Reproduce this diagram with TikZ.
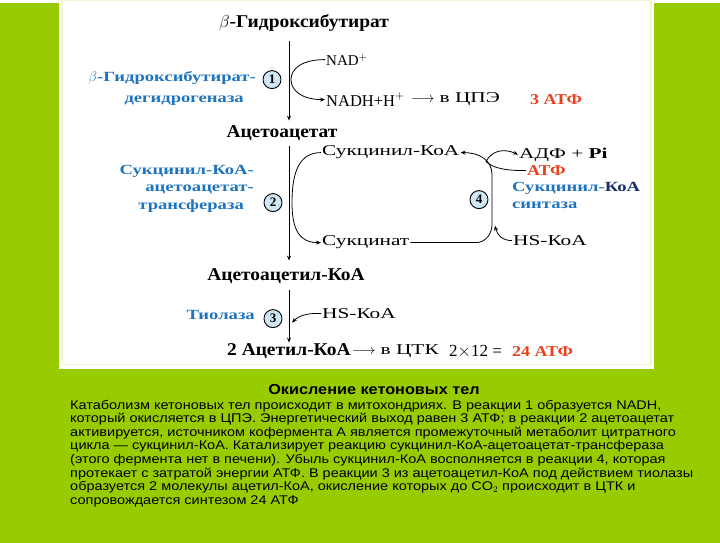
\documentclass[tikz,border=0pt]{standalone}
\usepackage{fontspec}
\setmainfont{Liberation Serif}
\newfontfamily\metabfont{Liberation Serif}[FakeStretch=1.08]
\newfontfamily\widefont{Liberation Serif}[FakeStretch=1.42]
\newfontfamily\enzfont{Liberation Serif}[FakeStretch=1.33]
\newfontfamily\atpfont{Liberation Serif}[FakeStretch=1.2]
\newfontfamily\notefont{Liberation Sans}[FakeStretch=1.15]
\newfontfamily\titlefont{Liberation Sans}[FakeStretch=1.12]
\usetikzlibrary{arrows.meta, calc}

\definecolor{slidegreen}{HTML}{99CC00}
\definecolor{panelrim}{HTML}{F3F8CF}
\definecolor{enzblue}{HTML}{1F74BE}
\definecolor{enznavy}{HTML}{1A2F6E}
\definecolor{atpred}{HTML}{E8401C}
\definecolor{stepfill}{HTML}{CFE6F5}

\begin{document}
\begin{tikzpicture}[
  x=1pt, y=-1pt,
  % ---- styles ----
  metab/.style = {font=\metabfont\fontsize{18}{20}\selectfont\bfseries, inner sep=1pt},
  latin/.style = {font=\fontsize{15}{17}\selectfont, inner sep=1pt},
  cofac/.style = {font=\widefont\fontsize{15}{17}\selectfont, inner sep=1pt},
  enzyme/.style = {font=\enzfont\fontsize{14}{17.5}\selectfont\bfseries, text=enzblue,
    inner sep=1pt},
  atp/.style = {font=\atpfont\fontsize{15}{17}\selectfont\bfseries, text=atpred,
    inner sep=1pt},
  stepnum/.style = {circle, draw, line width=0.9pt, fill=stepfill,
    minimum size=18pt, inner sep=0pt, font=\fontsize{13}{13}\selectfont\bfseries},
  flow/.style = {-{Stealth[length=5pt, width=4pt]}, line width=0.8pt},
  side/.style = {line width=0.8pt}
]

% ============ BACKGROUND ============
\fill[slidegreen] (0,0) rectangle (720,540);
\fill[white] (59,0) rectangle (654,366);
\draw[panelrim, line width=1.2pt] (62,-2) rectangle (651,362);

% ============ MAIN CHAIN ============
\coordinate (axis) at (289,0);

\node[metab] (hbut)   at (304,20)  {$\beta$-Гидроксибутират};
\node[metab] (acac)   at (282,131) {Ацетоацетат};
\node[metab] (acacoa) at (286,274) {Ацетоацетил-КоА};
\node[metab, anchor=west] (acetyl) at (226,349) {2 Ацетил-КоА};
\node[cofac, anchor=west] (ctk)   at (351,349) {$\longrightarrow$ в ЦТК};
\node[latin, anchor=west, font=\fontsize{17}{19}\selectfont] (calc3) at (448,349)
  {2$\times$12 =};
\node[atp, anchor=west]   (atp3)  at (511,349) {24 АТФ};

\draw[flow] (axis |- 0,38)  -- (axis |- 0,118);
\draw[flow] (axis |- 0,143) -- (axis |- 0,258);
\draw[flow] (axis |- 0,287) -- (axis |- 0,340);

% ============ STEP 1 ============
\node[stepnum] (s1) at (272,77) {1};
\node[enzyme, anchor=east, align=right] (enz1) at (257,86)
  {$\beta$-Гидроксибутират-\\[3pt] дегидрогеназа\hspace*{12pt}};
\node[latin, anchor=west] (nad)  at (325,57) {NAD$^{+}$};
\node[latin, anchor=west, font=\fontsize{16.5}{18}\selectfont] (nadh) at (325,97)
  {NADH+H$^{+}$};
\node[cofac, anchor=west] (cpe)  at (410,97) {$\longrightarrow$ в ЦПЭ};
\node[atp, anchor=west] (atp1) at (529,97) {3 АТФ};

\coordinate (k1) at (291,77);
\draw[flow] (nad.west) .. controls (302,57) and (291,66) .. (k1)
  .. controls (291,88) and (302,97) .. (nadh.west);

% ============ STEP 2 ============
\node[stepnum] (s2) at (273,200) {2};
\node[enzyme, anchor=east, align=right] (enz2) at (255,186)
  {Сукцинил-КоА-\\ ацетоацетат-\\ трансфераза\hspace*{10pt}};
\node[cofac, anchor=west] (sucoa) at (321,150) {Сукцинил-КоА};
\node[cofac, anchor=west] (succ)  at (321,240) {Сукцинат};

\coordinate (k2) at (292,200);
\draw[flow] (sucoa.west) .. controls (300,150) and (292,168) .. (k2)
  .. controls (292,228) and (300,240) .. (succ.west);

% ============ STEP 4 ============
\node[stepnum] (s4) at (479,197) {4};
\node[cofac, anchor=west] (adp)   at (518,152) {АДФ + \textbf{Pi}};
\node[atp, anchor=west]   (atp4)  at (526,168) {АТФ};
\node[enzyme, anchor=north west, align=left] (enz4) at (511,178)
  {Сукцинил-\textcolor{enznavy}{КоА}\\ синтаза};
\node[cofac, anchor=west] (hskoa) at (512,238) {HS-КоА};

\coordinate (c4a) at (476,240);
\coordinate (c4b) at (492,222);
\coordinate (c4c) at (492,172);
\coordinate (j4)  at (486,159);
\coordinate (j4b) at (495,223);

\draw[flow] (succ.east) -- (c4a) to[out=0, in=-90] (c4b) -- (c4c)
  .. controls (492,158) and (480,150) .. (sucoa.east);
\draw[flow] (j4) .. controls (492,147) and (505,146) .. (adp.west);
\draw[side] (atp4.west) .. controls (506,168) and (494,166) .. (j4);
\draw[flow] (hskoa.west) .. controls (502,238) and (497,232) .. (j4b);

% ============ STEP 3 ============
\node[stepnum] (s3) at (273,316) {3};
\node[enzyme, anchor=east] (thiol) at (256,312) {Тиолаза};
\node[cofac, anchor=west] (hskoa3) at (321,311) {HS-КоА};

\coordinate (j3) at (292,320);
\draw[flow] (hskoa3.west) .. controls (306,310) and (298,314) .. (j3);

% ============ NOTE ============
\node[font=\titlefont\fontsize{14.5}{16}\selectfont\bfseries] (title) at (374,387)
  {Окисление кетоновых тел};
\node[anchor=north west, align=left, inner sep=0pt,
  font=\notefont\fontsize{12.6}{13.6}\selectfont] (note) at (70,397)
  {Катаболизм кетоновых тел происходит в митохондриях. В реакции 1 образуется NADH,\\
   который окисляется в ЦПЭ. Энергетический выход равен 3 АТФ; в реакции 2 ацетоацетат\\
   активируется, источником кофермента А является промежуточный метаболит цитратного\\
   цикла — сукцинил-КоА. Катализирует реакцию сукцинил-КоА-ацетоацетат-трансфераза\\
   (этого фермента нет в печени). Убыль сукцинил-КоА восполняется в реакции 4, которая\\
   протекает с затратой энергии АТФ. В реакции 3 из ацетоацетил-КоА под действием тиолазы\\
   образуется 2 молекулы ацетил-КоА, окисление которых до CO$_2$ происходит в ЦТК и\\
   сопровождается синтезом 24 АТФ};

\useasboundingbox (0,0) rectangle (720,540);
\end{tikzpicture}
\end{document}
